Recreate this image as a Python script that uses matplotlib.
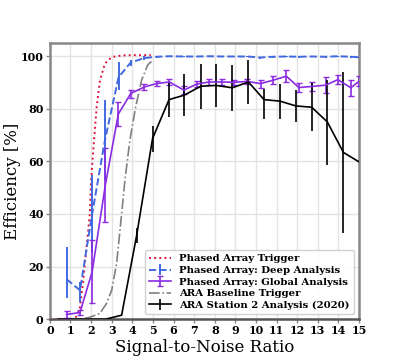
import numpy as np
import matplotlib
matplotlib.use("Agg")
import matplotlib.pyplot as plt

# -----------------------------
# DATA
# -----------------------------

# Phased Array Trigger (curve)
pa_trig_x = [0, 0.5, 1.0, 1.25, 1.45, 1.62, 1.78, 1.94, 2.0, 2.14, 2.27, 2.43, 2.67, 3.0, 3.5, 4.0, 4.5, 4.9]
pa_trig_y = [0, 0, 0, 0.6, 4, 14.8, 27.5, 40.3, 52.8, 68, 80.7, 90.9, 97.2, 99.7, 100.3, 100.4, 100.4, 100.4]

# Phased Array: Deep Analysis
deep_x = [0.81, 1.46, 2.05, 2.67, 3.33, 3.92, 4.58, 5.18, 5.8, 6.5, 7.12, 7.72, 8.33,
          8.93, 9.58, 10.2, 10.84, 11.49, 12.08, 12.7, 13.38, 13.97, 14.6, 15.0]
deep_y = [15.2, 11.0, 40.0, 68.0, 92.0, 97.6, 99.3, 99.8, 100.0, 99.9, 99.9, 100.0, 99.9,
          99.9, 99.9, 99.5, 99.8, 99.9, 99.8, 99.9, 99.8, 100.0, 99.8, 99.6]
deep_lo = [7.1, 4.4, 15.0, 15.0, 5.0, 1.5, 0.8, 0.4, 0.3, 0.3, 0.3, 0.3, 0.3,
           0.3, 0.3, 0.4, 0.3, 0.3, 0.3, 0.3, 0.3, 0.3, 0.3, 0.3]
deep_hi = [12.3, 3.2, 15.0, 15.3, 5.8, 1.0, 0.6, 0.2, 0.2, 0.2, 0.2, 0.2, 0.2,
           0.2, 0.2, 0.3, 0.2, 0.2, 0.2, 0.2, 0.2, 0.2, 0.2, 0.2]

# Phased Array: Global Analysis
glob_x = [0.81, 1.46, 2.05, 2.69, 3.32, 3.92, 4.58, 5.18, 5.8, 6.5, 7.12, 7.72, 8.33,
          8.93, 9.58, 10.22, 10.84, 11.47, 12.08, 12.7, 13.38, 13.97, 14.6, 15.0]
glob_y = [1.8, 2.5, 18.0, 51.0, 78.0, 85.8, 88.3, 89.6, 90.2, 87.1, 89.4, 90.2, 90.2,
          90.1, 90.4, 89.6, 90.9, 92.4, 88.1, 88.5, 89.0, 91.1, 88.0, 90.5]
glob_err = [1.4, 1.0, 12.0, 14.0, 4.5, 1.5, 1.2, 1.0, 1.0, 1.5, 1.2, 1.0, 1.0,
            1.0, 1.0, 1.5, 1.5, 2.2, 1.8, 1.8, 3.0, 1.8, 3.0, 1.8]

# ARA Baseline Trigger (curve)
ara_trig_x = [0, 1.0, 1.5, 1.94, 2.43, 2.75, 3.0, 3.24, 3.48, 3.64, 3.88, 4.16, 4.45, 4.74, 4.98]
ara_trig_y = [0, 0, 0, 0.7, 2.2, 6, 11, 21.3, 40, 52.8, 68, 80.7, 90.9, 96.6, 98.5]

# ARA Station 2 Analysis (2020)
a2_x = [0.4, 1.17, 1.94, 2.71, 3.48, 4.21, 4.98, 5.78, 6.52, 7.32, 8.06, 8.85, 9.63,
        10.39, 11.17, 11.93, 12.7, 13.46, 14.24, 15.0]
a2_y = [0, 0, 0, 0, 1.5, 31.9, 68.7, 83.5, 85.2, 88.6, 88.9, 88.0, 90.2,
        83.5, 82.9, 81.1, 80.6, 75.0, 63.4, 59.8]
a2_lo = [0, 0, 0, 0, 0, 3.1, 5.1, 6.8, 8.0, 8.5, 8.2, 8.9, 8.2,
         7.5, 6.9, 6.1, 9.0, 16.2, 30.8, 0]
a2_hi = [0, 0, 0, 0, 0, 2.6, 4.7, 6.7, 8.0, 8.4, 8.3, 8.8, 8.5,
         4.2, 6.5, 6.2, 9.2, 15.9, 30.6, 0]

x_ticks = list(range(0, 16))
y_ticks = [0, 20, 40, 60, 80, 100]

# -----------------------------
# PLOT
# -----------------------------

plt.rcParams['font.family'] = 'DejaVu Serif'

fig = plt.figure(figsize=(3.99, 3.59), dpi=100)
ax = fig.add_axes([0.125, 0.111, 0.775, 0.769])

h1, = ax.plot(pa_trig_x, pa_trig_y, color='crimson', linestyle=':', linewidth=1.4,
              label='Phased Array Trigger', zorder=3)

h2 = ax.errorbar(deep_x, deep_y, yerr=[deep_lo, deep_hi], color='royalblue',
                 linestyle='--', linewidth=1.4, elinewidth=1.4, capsize=0,
                 label='Phased Array: Deep Analysis', zorder=4)

h3 = ax.errorbar(glob_x, glob_y, yerr=glob_err, color='blueviolet',
                 linestyle='-', linewidth=1.2, elinewidth=1.2, capsize=2,
                 label='Phased Array: Global Analysis', zorder=4)

h4, = ax.plot(ara_trig_x, ara_trig_y, color='grey', linestyle='-.', linewidth=1.2,
              label='ARA Baseline Trigger', zorder=3)

h5 = ax.errorbar(a2_x, a2_y, yerr=[a2_lo, a2_hi], color='black',
                 linestyle='-', linewidth=1.2, elinewidth=1.2, capsize=0,
                 label='ARA Station 2 Analysis (2020)', zorder=4)

ax.set_xlim(0, 15)
ax.set_ylim(0, 105)
ax.set_xticks(x_ticks)
ax.set_yticks(y_ticks)

for lab in ax.get_xticklabels() + ax.get_yticklabels():
    lab.set_fontweight('bold')
    lab.set_fontsize(8)

ax.tick_params(axis='both', length=3, width=1, color='#888888', pad=1.5)

ax.grid(True, color='#e3e3e3', linewidth=1)
ax.set_axisbelow(True)

for side in ['left', 'right', 'top', 'bottom']:
    ax.spines[side].set_color('#888888')
    ax.spines[side].set_linewidth(1.8)
ax.spines['bottom'].set_color('#555555')

ax.set_xlabel('Signal-to-Noise Ratio', fontsize=12, labelpad=2)
ax.set_ylabel('Efficiency [%]', fontsize=12, labelpad=0)

handles = [h1, h2, h3, h4, h5]
ax.legend(handles, [h.get_label() for h in handles], loc='lower right',
          prop={'weight': 'bold', 'size': 7.3},
          handlelength=2.2, borderpad=0.4, labelspacing=0.25,
          framealpha=0.9, fancybox=True)

plt.savefig('out.png', dpi=100)
